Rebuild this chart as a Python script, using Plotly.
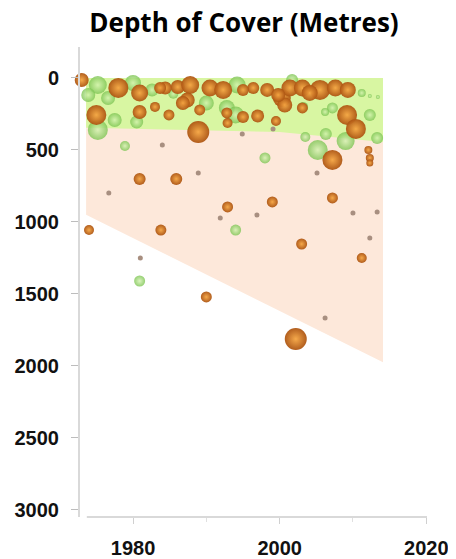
import plotly.graph_objects as go

# ---- data (year, depth of cover in metres, bubble size) ----
orange_year = [1973.0, 1978.0, 1980.9, 1984.4, 1986.1, 1983.7, 1975.0, 1980.9, 1984.9, 1987.8,
               1987.4, 1990.5, 1992.3, 1996.4, 1998.3, 2000.3, 1995.0, 1997.0, 1992.9, 1988.9,
               2001.4, 2000.7, 2003.1, 2005.5, 2007.6, 2009.3, 2009.2, 2010.4, 2007.2, 2012.1,
               2012.3, 2012.3, 1980.9, 1985.9, 1992.9, 1999.0, 2007.2, 1974.0, 1983.8, 2003.0,
               2011.2, 1990.0, 2002.2, 2004.1, 1999.8, 1983.0, 1989.1, 1992.8, 2003.1, 1999.5,
               1995.0, 1986.8]
orange_depth = [14, 69, 104, 69, 63, 69, 257, 236, 257, 49,
                153, 69, 83, 69, 83, 139, 271, 264, 313, 375,
                69, 188, 69, 83, 69, 83, 257, 354, 569, 500,
                555, 590, 701, 701, 896, 861, 833, 1056, 1056, 1153,
                1250, 1521, 1813, 104, 118, 201, 222, 243, 208, 299,
                83, 174]
orange_size = [14, 20, 17, 13, 14, 12, 20, 14, 11, 18,
               15, 17, 18, 12, 14, 18, 12, 13, 10, 22,
               17, 15, 17, 20, 17, 16, 20, 20, 20, 8,
               8, 7, 12, 12, 11, 11, 11, 10, 11, 11,
               10, 11, 22, 16, 14, 10, 11, 11, 11, 10,
               12, 14]

green_year = [1975.2, 1980.0, 1982.6, 1975.2, 1977.5, 1980.5, 1978.9, 1994.2, 1990.0, 1992.8,
              1994.0, 2003.2, 2007.2, 2006.2, 2011.2, 2012.3, 2013.4, 2012.3, 2006.3, 2003.5,
              2005.2, 2009.0, 2013.3, 1998.0, 1994.0, 1980.9, 1973.9, 1976.6, 2001.7, 1985.5]
green_depth = [49, 35, 83, 361, 292, 306, 472, 49, 174, 208,
               257, 201, 208, 236, 104, 125, 132, 257, 389, 410,
               500, 438, 417, 555, 1056, 1410, 118, 139, 14, 110]
green_size = [18, 16, 13, 20, 14, 13, 10, 17, 15, 16,
              17, 10, 11, 8, 8, 4, 4, 12, 12, 10,
              20, 18, 12, 11, 11, 11, 14, 14, 12, 10]

dot_year = [1984.0, 1994.9, 1999.1, 1988.9, 1976.7, 2005.1, 1991.9, 1996.9, 2010.0, 2013.3,
            2012.3, 1981.0, 2006.2]
dot_depth = [465, 389, 354, 660, 799, 660, 972, 951, 938, 931,
             1111, 1250, 1667]

# shaded bands
peach_year = [1973.6, 2014.1, 2014.1, 1973.6]
peach_depth = [0, 0, 1975, 950]
green_band_year = [1973.6, 2014.1, 2014.1, 2000.0, 1973.6]
green_band_depth = [0, 0, 445, 375, 345]

y_ticks = [0, 500, 1000, 1500, 2000, 2500, 3000]
x_ticks = [1980, 2000, 2020]
x_axis_start = 1973.7

fig = go.Figure()
fig.add_trace(go.Scatter(x=peach_year, y=peach_depth, fill="toself", mode="lines",
                         line=dict(width=0), fillcolor="#fde8da", hoverinfo="skip"))
fig.add_trace(go.Scatter(x=green_band_year, y=green_band_depth, fill="toself", mode="lines",
                         line=dict(width=0), fillcolor="#d8f6a2", hoverinfo="skip"))
fig.add_trace(go.Scatter(x=green_year, y=green_depth, mode="markers", cliponaxis=False,
                         marker=dict(size=green_size, color="#7cc452", opacity=0.8,
                                     line=dict(width=0),
                                     gradient=dict(type="radial", color="#d2f2ae"))))
fig.add_trace(go.Scatter(x=orange_year, y=orange_depth, mode="markers", cliponaxis=False,
                         marker=dict(size=orange_size, color="#ad5512", opacity=0.95,
                                     line=dict(width=0),
                                     gradient=dict(type="radial", color="#f5a542"))))
fig.add_trace(go.Scatter(x=dot_year, y=dot_depth, mode="markers",
                         marker=dict(size=5, color="#a88f80", line=dict(width=0))))

axis_font = dict(family="Liberation Sans, Arial, sans-serif", size=20, color="#111111", weight="bold")

# x-axis baseline starts a little right of the y axis, as in the reference
fig.add_shape(type="line", xref="x", yref="paper", x0=x_axis_start, x1=max(x_ticks) + 0.1,
              y0=0, y1=0, line=dict(color="#d9d9d9", width=2), layer="above")

# the page body adds an 8px offset, so the figure is 8px smaller to fit the window
fig.update_layout(
    width=448, height=551,
    margin=dict(l=72, r=29, t=39, b=42),
    paper_bgcolor="white", plot_bgcolor="white",
    showlegend=False, hovermode=False,
    title=dict(text="Depth of Cover (Metres)", x=236 / 448, xanchor="center",
               y=1 - 15 / 551, yanchor="middle", yref="container",
               font=dict(family="Open Sans, sans-serif", size=26, color="black", weight="bold")),
    xaxis=dict(range=[1972.77, 2020.1], tickvals=x_ticks, showgrid=False, zeroline=False,
               automargin=False, showline=False,
               ticks="outside", ticklen=6, tickcolor="#d0d0d0",
               minor=dict(dtick=10, tick0=1980, ticks="outside", ticklen=4, tickcolor="#e0e0e0"),
               ticklabelstandoff=7, tickfont=axis_font),
    yaxis=dict(range=[3049, -215], tickvals=y_ticks, showgrid=False, zeroline=False,
               automargin=False,
               showline=True, linecolor="#d9d9d9", linewidth=2,
               ticks="outside", ticklen=7, tickcolor="#bdbdbd",
               ticklabelstandoff=8, tickfont=axis_font),
)

fig.write_html("out.html")
